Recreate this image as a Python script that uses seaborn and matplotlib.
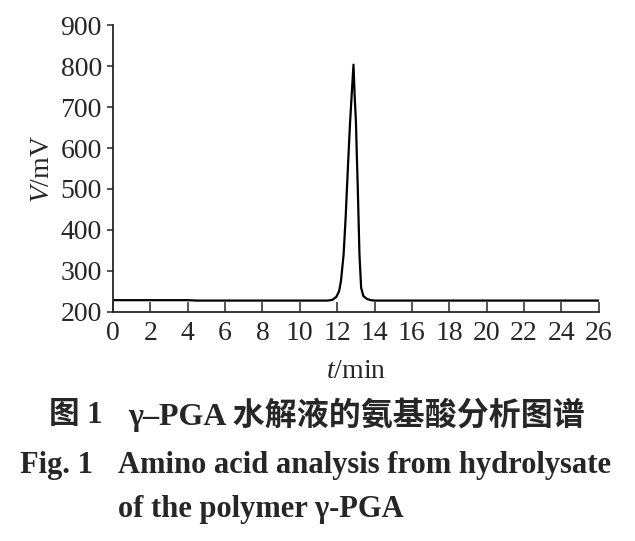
import seaborn as sns
import pandas as pd
import matplotlib.pyplot as plt

# chromatogram (t in min, signal in mV)
time_min = [0, 2, 4, 4.5, 6, 8, 10, 11.5, 11.75, 11.95, 12.1, 12.2, 12.34, 12.45,
            12.52, 12.62, 12.69, 12.78, 12.87, 12.93, 13.0, 13.05, 13.1, 13.19,
            13.28, 13.4, 13.59, 13.8, 14.0, 16, 18, 20, 22, 24, 26]
signal_mv = [228, 228, 228, 227, 227, 227, 227, 227, 229, 236, 250, 275, 339, 430,
             502, 600, 665, 735, 804, 730, 665, 580, 502, 339,
             258, 238, 231, 228, 227, 227, 227, 227, 227, 227, 227]

xticks = list(range(0, 27, 2))
yticks = list(range(200, 901, 100))

cap_cn_num = "图 1"
cap_cn = "γ–PGA 水解液的氨基酸分析图谱"
cap_en_num = "Fig. 1"
cap_en_1 = "Amino acid analysis from hydrolysate"
cap_en_2 = "of the polymer γ-PGA"

df = pd.DataFrame({"t": time_min, "V": signal_mv})

sns.set_style("ticks")
plt.rcParams["font.family"] = ["Liberation Serif", "Noto Sans CJK SC"]
plt.rcParams["mathtext.fontset"] = "custom"
plt.rcParams["mathtext.rm"] = "Liberation Serif"
plt.rcParams["mathtext.it"] = "Liberation Serif:italic"

fig = plt.figure(figsize=(6.35, 5.41), dpi=100)
ax = fig.add_axes([0.178, 0.424, 0.765, 0.529])
sns.lineplot(data=df, x="t", y="V", color="black", linewidth=1.6, ax=ax)

ax.set_xlim(0, 26)
ax.set_ylim(200, 900)
ax.set_xticks(xticks)
ax.set_yticks(yticks)
sns.despine(ax=ax)
ax.spines["left"].set_linewidth(1.3)
ax.spines["bottom"].set_linewidth(1.3)
ax.tick_params(axis="x", direction="in", length=7, width=1.1, labelsize=20, pad=7)
ax.tick_params(axis="y", direction="out", length=4, width=1.1, labelsize=20, pad=4)
ax.set_xlabel("$t$/min", fontsize=20, labelpad=9)
ax.set_ylabel("$V$/mV", fontsize=20, labelpad=4)

fig.text(49 / 635, 1 - 415 / 541, cap_cn_num, fontsize=22, fontweight="bold", va="center", ha="left")
fig.text(128 / 635, 1 - 415 / 541, cap_cn, fontsize=23, fontweight="bold", va="center", ha="left")
fig.text(20 / 635, 1 - 465 / 541, cap_en_num, fontsize=22, fontweight="bold", va="center", ha="left")
fig.text(118 / 635, 1 - 465 / 541, cap_en_1, fontsize=22, fontweight="bold", va="center", ha="left")
fig.text(118 / 635, 1 - 510 / 541, cap_en_2, fontsize=22, fontweight="bold", va="center", ha="left")

fig.savefig("out.png", dpi=100)
